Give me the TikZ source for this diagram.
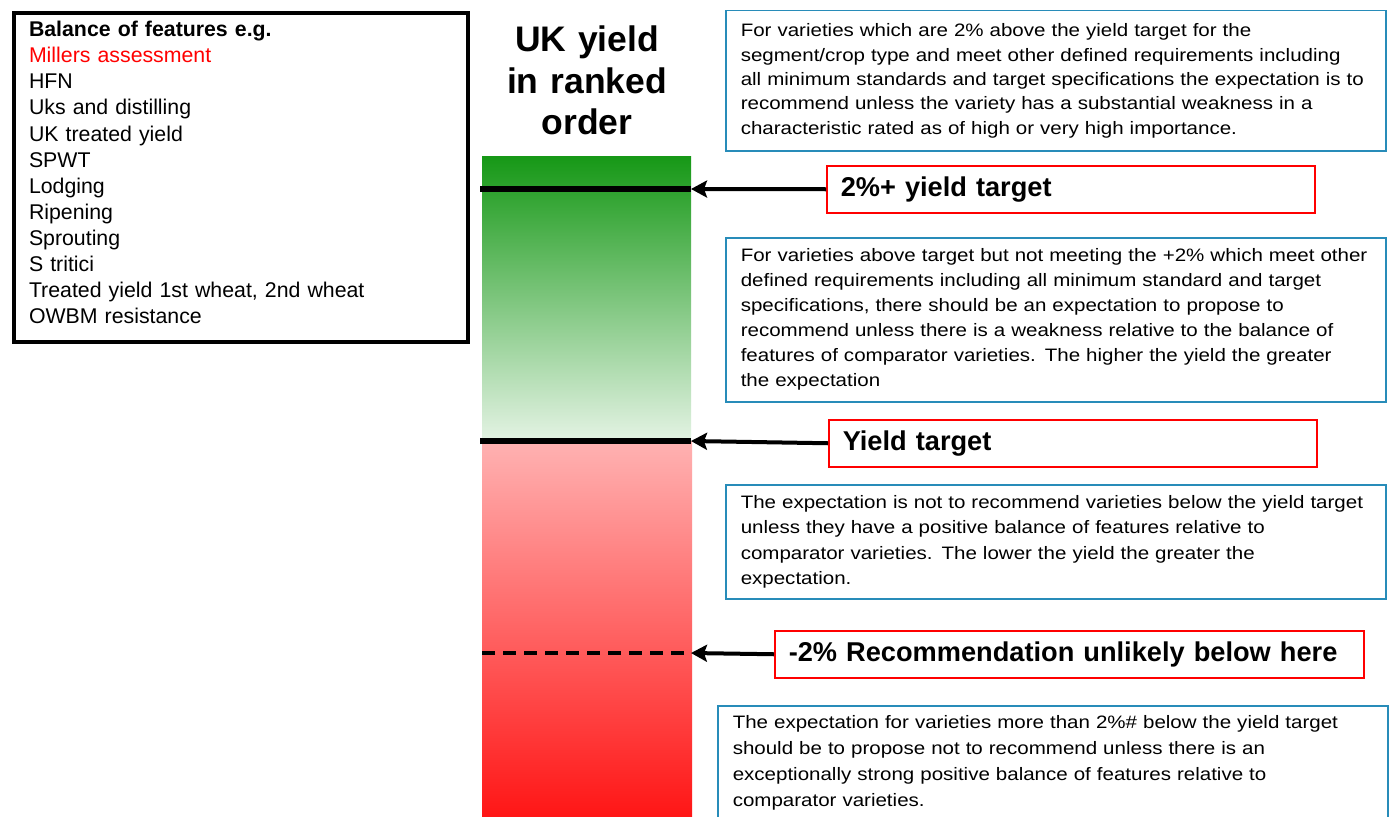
\documentclass[tikz,border=0pt]{standalone}
\usepackage{fontspec}
\setmainfont{Liberation Sans}
\newfontfamily\bodyfont[FakeStretch=1.14]{Liberation Sans}
\usetikzlibrary{arrows.meta}
\definecolor{boxblue}{RGB}{40,140,185}
\definecolor{gtop}{RGB}{22,152,22}
\definecolor{gbot}{RGB}{228,243,228}
\definecolor{rtop}{RGB}{255,178,178}
\definecolor{rbot}{RGB}{255,22,22}
\definecolor{millred}{RGB}{255,0,0}
\begin{document}
\begin{tikzpicture}[x=1pt,y=-1pt,
  featbox/.style={draw=black, line width=4pt, anchor=north west, align=left,
    text width=424pt, inner xsep=15pt, inner ysep=0pt,
    font=\fontsize{21.3}{26.1}\selectfont},
  bluebox/.style={draw=boxblue, line width=1.5pt, anchor=north west, align=left,
    inner xsep=15pt, inner ysep=0pt, font=\bodyfont\fontsize{18}{25}\selectfont},
  redbox/.style={draw=red, line width=1.5pt, anchor=north west, align=left,
    inner xsep=14pt, inner ysep=0pt, minimum height=47pt,
    font=\bfseries\fontsize{27.2}{30}\selectfont},
  titletext/.style={anchor=base, align=center, text width=220pt, inner sep=0pt,
    font=\bfseries\fontsize{35.5}{41.5}\selectfont},
  barline/.style={line width=5.5pt, black},
  dashline/.style={line width=4pt, black, dash pattern=on 13pt off 8pt},
  pointer/.style={line width=4pt, black, -{Stealth[length=16pt,width=17pt,inset=3pt]}}
]
\useasboundingbox (0,0) rectangle (1391,816);
\fill[white] (0,0) rectangle (1391,816);
\clip (0,0) rectangle (1391,816);

% ranked bar
\shade[top color=gtop, bottom color=gbot] (482,156) rectangle (691,441);
\shade[top color=rtop, bottom color=rbot] (482,441) rectangle (692,816);

\coordinate (l1a) at (480,189);
\coordinate (l1b) at (691,189);
\coordinate (l2a) at (480,441);
\coordinate (l2b) at (691,441);
\coordinate (l3a) at (482,653);
\coordinate (l3b) at (691,653);

\draw[barline] (l1a) -- (l1b);
\draw[barline] (l2a) -- (l2b);
\draw[dashline] (l3a) -- (l3b);

% title
\node[titletext] (title) at (587,52) {UK yield\\in ranked\\order};

% features box
\node[featbox, minimum height=329pt] (feat) at (12,11) {%
\textbf{Balance of features e.g.}\\
\textcolor{millred}{Millers assessment}\\
HFN\\
Uks and distilling\\
UK treated yield\\
SPWT\\
Lodging\\
Ripening\\
Sprouting\\
S tritici\\
Treated yield 1st wheat, 2nd wheat\\
OWBM resistance\rule[-10pt]{0pt}{1pt}};

% blue explanation boxes
\node[bluebox, text width=630pt, minimum height=140pt, font=\bodyfont\fontsize{18}{24.3}\selectfont] (b1) at (725,10) {%
For varieties which are 2\% above the yield target for the\\
segment/crop type and meet other defined requirements including\\
all minimum standards and target specifications the expectation is to\\
recommend unless the variety has a substantial weakness in a\\
characteristic rated as of high or very high importance.};

\node[bluebox, text width=630pt, minimum height=164pt] (b2) at (725,237) {%
For varieties above target but not meeting the +2\% which meet other\\
defined requirements including all minimum standard and target\\
specifications, there should be an expectation to propose to\\
recommend unless there is a weakness relative to the balance of\\
features of comparator varieties. The higher the yield the greater\\
the expectation};

\node[bluebox, text width=630pt, minimum height=114pt, font=\bodyfont\fontsize{18}{25.6}\selectfont] (b3) at (725,484) {%
The expectation is not to recommend varieties below the yield target\\
unless they have a positive balance of features relative to\\
comparator varieties. The lower the yield the greater the\\
expectation.};

\node[bluebox, text width=640pt, minimum height=114pt, font=\bodyfont\fontsize{18}{26}\selectfont] (b4) at (717,705) {%
The expectation for varieties more than 2\%\# below the yield target\\
should be to propose not to recommend unless there is an\\
exceptionally strong positive balance of features relative to\\
comparator varieties.};

% red label boxes
\node[redbox, text width=460pt] (t2) at (826,165) {2\%+ yield target};
\node[redbox, text width=460pt] (ty) at (828,419) {Yield target};
\node[redbox, text width=561pt] (tm) at (774,630) {-2\% Recommendation unlikely below here};

% pointers
\draw[pointer] (t2.west) -- (l1b);
\draw[pointer] (ty.west) -- (l2b);
\draw[pointer] (tm.west) -- (l3b);
\end{tikzpicture}
\end{document}
